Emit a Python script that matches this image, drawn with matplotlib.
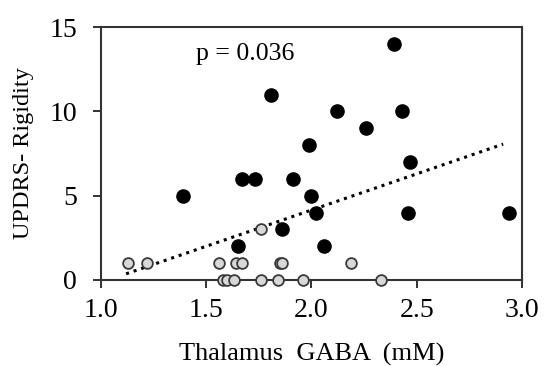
import matplotlib.pyplot as plt
import numpy as np

# filled points (black)
filled_x = [1.39, 1.65, 1.67, 1.73, 1.81, 1.86, 1.91, 1.99, 2.00, 2.02, 2.06,
            2.12, 2.26, 2.39, 2.43, 2.46, 2.47, 2.94]
filled_y = [5, 2, 6, 6, 11, 3, 6, 8, 5, 4, 2, 10, 9, 14, 10, 4, 7, 4]

# open points (grey)
open_x = [1.13, 1.22, 1.56, 1.64, 1.67, 1.85, 1.86, 2.19, 1.76,
          1.58, 1.60, 1.63, 1.76, 1.84, 1.96, 2.33]
open_y = [1, 1, 1, 1, 1, 1, 1, 1, 3, 0, 0, 0, 0, 0, 0, 0]

xticks = [1.0, 1.5, 2.0, 2.5, 3.0]
yticks = [0, 5, 10, 15]

plt.rcParams['font.family'] = ['Liberation Serif', 'DejaVu Serif']

fig = plt.figure(figsize=(5.45, 3.66), dpi=100)
ax = fig.add_axes([0.185, 0.235, 0.773, 0.691])

# trend line over all points
all_x = np.array(filled_x + open_x)
all_y = np.array(filled_y + open_y)
k, b = np.polyfit(all_x, all_y, 1)
lx = np.array([1.12, 2.91])
ax.plot(lx, k * lx + b, color='black', linestyle=(0, (1, 1.6)), linewidth=2.2, zorder=2)

ax.scatter(open_x, open_y, s=60, facecolor='#d8d8d8', edgecolor='#3a3a3a',
           linewidth=1.3, zorder=3, clip_on=False)
ax.scatter(filled_x, filled_y, s=90, facecolor='black', edgecolor='black', zorder=4)

ax.text(1.45, 13.4, 'p = 0.036', fontsize=18.5, va='center', ha='left')

ax.set_xlim(1.0, 3.0)
ax.set_ylim(0, 15)
ax.set_xticks(xticks)
ax.set_xticklabels(['%.1f' % t for t in xticks])
ax.set_yticks(yticks)
ax.tick_params(labelsize=20, length=6, width=1.3, direction='out', colors='#222222')
ax.tick_params(labelcolor='black')
ax.tick_params(axis='x', pad=7)
ax.tick_params(axis='y', pad=11)
for s in ax.spines.values():
    s.set_linewidth(1.5)
    s.set_color('#333333')

ax.set_xlabel('Thalamus  GABA  (mM)', fontsize=19, labelpad=14)
ax.set_ylabel('UPDRS- Rigidity', fontsize=17.5, labelpad=11)

plt.savefig('out.png', dpi=100)
